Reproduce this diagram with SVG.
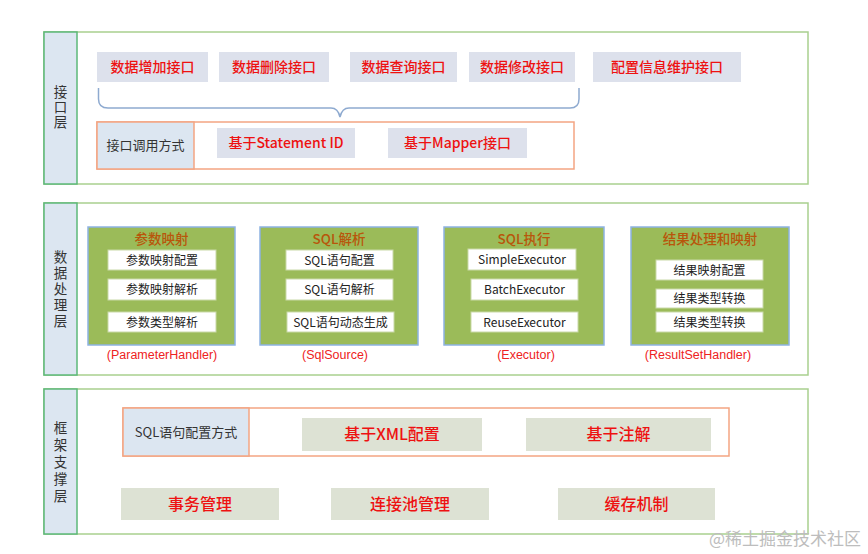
<svg xmlns="http://www.w3.org/2000/svg" width="868" height="554" viewBox="0 0 868 554">
<style>
  text { font-family: "Noto Sans CJK SC", "Liberation Sans", sans-serif; }
  .layer { fill: #ffffff; stroke: #a9d08e; stroke-width: 1.5; }
  .lab { fill: #dce6f1; stroke: #5cb878; stroke-width: 1.5; }
  .labt { font-size: 13.5px; fill: #333; text-anchor: middle; writing-mode: vertical-rl; }
  .ibtn { fill: #dde1ec; }
  .red { fill: #ee1111; text-anchor: middle; font-size: 14px; font-weight: 500; }
  .orange { fill: none; stroke: #f4a582; stroke-width: 1.5; }
  .cell { fill: #dce6f1; stroke: #f4a582; stroke-width: 1.5; }
  .dark { fill: #333; font-size: 13px; text-anchor: middle; }
  .gbox { fill: #9bbb59; stroke: #8db3e2; stroke-width: 1.5; }
  .gtitle { fill: #b8560b; font-size: 13.5px; text-anchor: middle; font-weight: 500; }
  .wbox { fill: #ffffff; stroke: #c9d9a8; stroke-width: 1; }
  .wt { fill: #222; font-size: 12px; text-anchor: middle; }
  .hl { fill: #ee2222; font-size: 12.5px; text-anchor: middle; font-family: "Liberation Sans", sans-serif; }
  .sbtn { fill: #dde2d4; }
  .arrow { fill: #4a86c8; }
</style>

<!-- Layer 1 -->
<g id="layer-interface">
  <rect class="layer" x="44" y="32" width="764" height="152"/>
  <rect class="lab" x="44" y="32" width="33" height="152"/>
  <text class="labt" x="60.5" y="108" style="letter-spacing:1.5px">接口层</text>
</g>
<g id="n-add"><rect class="ibtn" x="97" y="52" width="111" height="30"/><text class="red" x="152.5" y="72">数据增加接口</text></g>
<g id="n-del"><rect class="ibtn" x="219" y="52" width="110" height="30"/><text class="red" x="274" y="72">数据删除接口</text></g>
<g id="n-query"><rect class="ibtn" x="350" y="52" width="107" height="30"/><text class="red" x="403.5" y="72">数据查询接口</text></g>
<g id="n-mod"><rect class="ibtn" x="469" y="52" width="106" height="30"/><text class="red" x="522" y="72">数据修改接口</text></g>
<g id="n-conf"><rect class="ibtn" x="593" y="52" width="148" height="30"/><text class="red" x="667" y="72">配置信息维护接口</text></g>

<g id="connectors">
  <path d="M98.5,88 V99 Q98.5,108 108,108 H331 Q338,108 340,117 Q342,108 349,108 H570 Q579,108 579,99 V88" fill="none" stroke="#8eaad0" stroke-width="1.5"/>
  <path class="arrow" d="M235,268 H252 V261 L260,279 L252,299 V289 H235 Z"/>
  <path class="arrow" d="M418,268 H435 V261 L444,279 L435,299 V289 H418 Z"/>
  <path class="arrow" d="M604,268 H622 V261 L631,279 L622,299 V289 H604 Z"/>
</g>

<g id="n-call">
  <rect class="orange" x="97" y="122" width="477" height="47"/>
  <rect class="cell" x="97" y="122" width="97" height="47"/>
  <text class="dark" x="145.5" y="150">接口调用方式</text>
</g>
<g id="n-stmt"><rect class="ibtn" x="217" y="128" width="138" height="30"/><text class="red" x="286" y="148">基于Statement ID</text></g>
<g id="n-mapper"><rect class="ibtn" x="388" y="128" width="139" height="30"/><text class="red" x="457.5" y="148">基于Mapper接口</text></g>

<!-- Layer 2 -->
<g id="layer-data">
  <rect class="layer" x="44" y="203" width="764" height="172"/>
  <rect class="lab" x="44" y="203" width="33" height="172"/>
  <text class="labt" x="60.5" y="290" style="letter-spacing:2.5px">数据处理层</text>
</g>

<g id="n-param">
  <rect class="gbox" x="88" y="227" width="147" height="118"/>
  <text class="gtitle" x="161.5" y="244">参数映射</text>
  <rect class="wbox" x="108" y="250" width="108" height="20"/><text class="wt" x="162" y="265">参数映射配置</text>
  <rect class="wbox" x="108" y="279" width="108" height="21"/><text class="wt" x="162" y="294">参数映射解析</text>
  <rect class="wbox" x="108" y="312" width="108" height="20"/><text class="wt" x="162" y="327">参数类型解析</text>
  <text class="hl" x="162" y="359">(ParameterHandler)</text>
</g>
<g id="n-sql">
  <rect class="gbox" x="260" y="227" width="158" height="118"/>
  <text class="gtitle" x="339" y="244">SQL解析</text>
  <rect class="wbox" x="286" y="250" width="107" height="20"/><text class="wt" x="339.5" y="265">SQL语句配置</text>
  <rect class="wbox" x="286" y="279" width="107" height="21"/><text class="wt" x="339.5" y="294">SQL语句解析</text>
  <rect class="wbox" x="287" y="312" width="107" height="20"/><text class="wt" x="340.5" y="327">SQL语句动态生成</text>
  <text class="hl" x="335" y="359">(SqlSource)</text>
</g>
<g id="n-exec">
  <rect class="gbox" x="444" y="227" width="160" height="118"/>
  <text class="gtitle" x="524" y="244">SQL执行</text>
  <rect class="wbox" x="468" y="249" width="108" height="21"/><text class="wt" x="522" y="264">SimpleExecutor</text>
  <rect class="wbox" x="471" y="279" width="107" height="21"/><text class="wt" x="524.5" y="294">BatchExecutor</text>
  <rect class="wbox" x="471" y="312" width="107" height="20"/><text class="wt" x="524.5" y="327">ReuseExecutor</text>
  <text class="hl" x="526" y="359">(Executor)</text>
</g>
<g id="n-result">
  <rect class="gbox" x="631" y="227" width="158" height="118"/>
  <text class="gtitle" x="710" y="244">结果处理和映射</text>
  <rect class="wbox" x="656" y="260" width="107" height="20"/><text class="wt" x="709.5" y="275">结果映射配置</text>
  <rect class="wbox" x="656" y="289" width="107" height="19"/><text class="wt" x="709.5" y="303">结果类型转换</text>
  <rect class="wbox" x="656" y="312" width="107" height="20"/><text class="wt" x="709.5" y="327">结果类型转换</text>
  <text class="hl" x="698" y="359">(ResultSetHandler)</text>
</g>

<!-- Layer 3 -->
<g id="layer-framework">
  <rect class="layer" x="44" y="389" width="764" height="145"/>
  <rect class="lab" x="44" y="389" width="33" height="145"/>
  <text class="labt" x="60.5" y="464" style="letter-spacing:3.5px">框架支撑层</text>
</g>
<g id="n-sqlconf">
  <rect class="orange" x="123" y="408" width="606" height="48"/>
  <rect class="cell" x="123" y="408" width="126" height="48"/>
  <text class="dark" x="186" y="437">SQL语句配置方式</text>
</g>
<g id="n-xml"><rect class="sbtn" x="302" y="418" width="180" height="33"/><text class="red" style="font-size:16px" x="392" y="440">基于XML配置</text></g>
<g id="n-anno"><rect class="sbtn" x="526" y="418" width="185" height="33"/><text class="red" style="font-size:16px" x="618.5" y="440">基于注解</text></g>
<g id="n-tx"><rect class="sbtn" x="121" y="488" width="158" height="32"/><text class="red" style="font-size:16px" x="200" y="510">事务管理</text></g>
<g id="n-pool"><rect class="sbtn" x="331" y="488" width="158" height="32"/><text class="red" style="font-size:16px" x="410" y="510">连接池管理</text></g>
<g id="n-cache"><rect class="sbtn" x="558" y="488" width="157" height="32"/><text class="red" style="font-size:16px" x="636.5" y="510">缓存机制</text></g>

<text x="861" y="545" style="font-size:17px; fill:#bdbdbd; text-anchor:end">@稀土掘金技术社区</text>
</svg>
